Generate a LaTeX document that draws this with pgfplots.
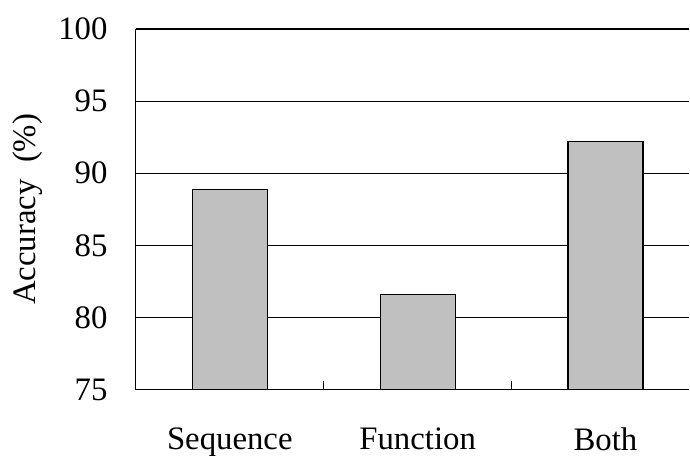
\documentclass[border=0pt]{standalone}
\usepackage{fontspec}
\setmainfont{Liberation Serif}
\usepackage{pgfplots}
\pgfplotsset{compat=1.18}
\definecolor{barfill}{RGB}{192,192,192}

\begin{document}
\begin{tikzpicture}[x=1pt,y=1pt]
  \path (0,0) rectangle (345,227.5);
  \begin{axis}[
      at={(68pt,32.5pt)}, anchor=south west,
      scale only axis,
      width=277pt, height=180.5pt,
      xmin=-0.5, xmax=2.4468,
      ymin=75, ymax=100,
      ytick={75,80,85,90,95,100},
      xtick={0,1,2},
      xticklabels={Sequence,Function,Both},
      minor xtick={0.5,1.5},
      axis x line*=bottom, axis y line*=left,
      axis line style={-, black, line width=0.6pt},
      ymajorgrids,
      major grid style={black, line width=0.6pt},
      major tick length=0pt,
      minor tick length=4.5pt,
      tick align=inside,
      minor tick style={black, line width=0.6pt},
      every tick label/.append style={font=\fontsize{16.4}{19}\selectfont},
      /pgf/number format/assume math mode=true,
      yticklabel style={anchor=east, inner sep=0pt, xshift=-14pt},
      xticklabel style={anchor=north, inner sep=0pt, yshift=-19pt},
      ylabel={Accuracy\ \ (\%)},
      ylabel style={at={(axis description cs:-0.195,0.5)}, anchor=center,
        font=\fontsize{16.4}{19}\selectfont},
    ]
    \addplot[ybar, bar width=37.5pt, fill=barfill, draw=black, line width=0.6pt]
      coordinates {(0,88.85) (1,81.6) (2,92.2)};
  \end{axis}
\end{tikzpicture}
\end{document}
